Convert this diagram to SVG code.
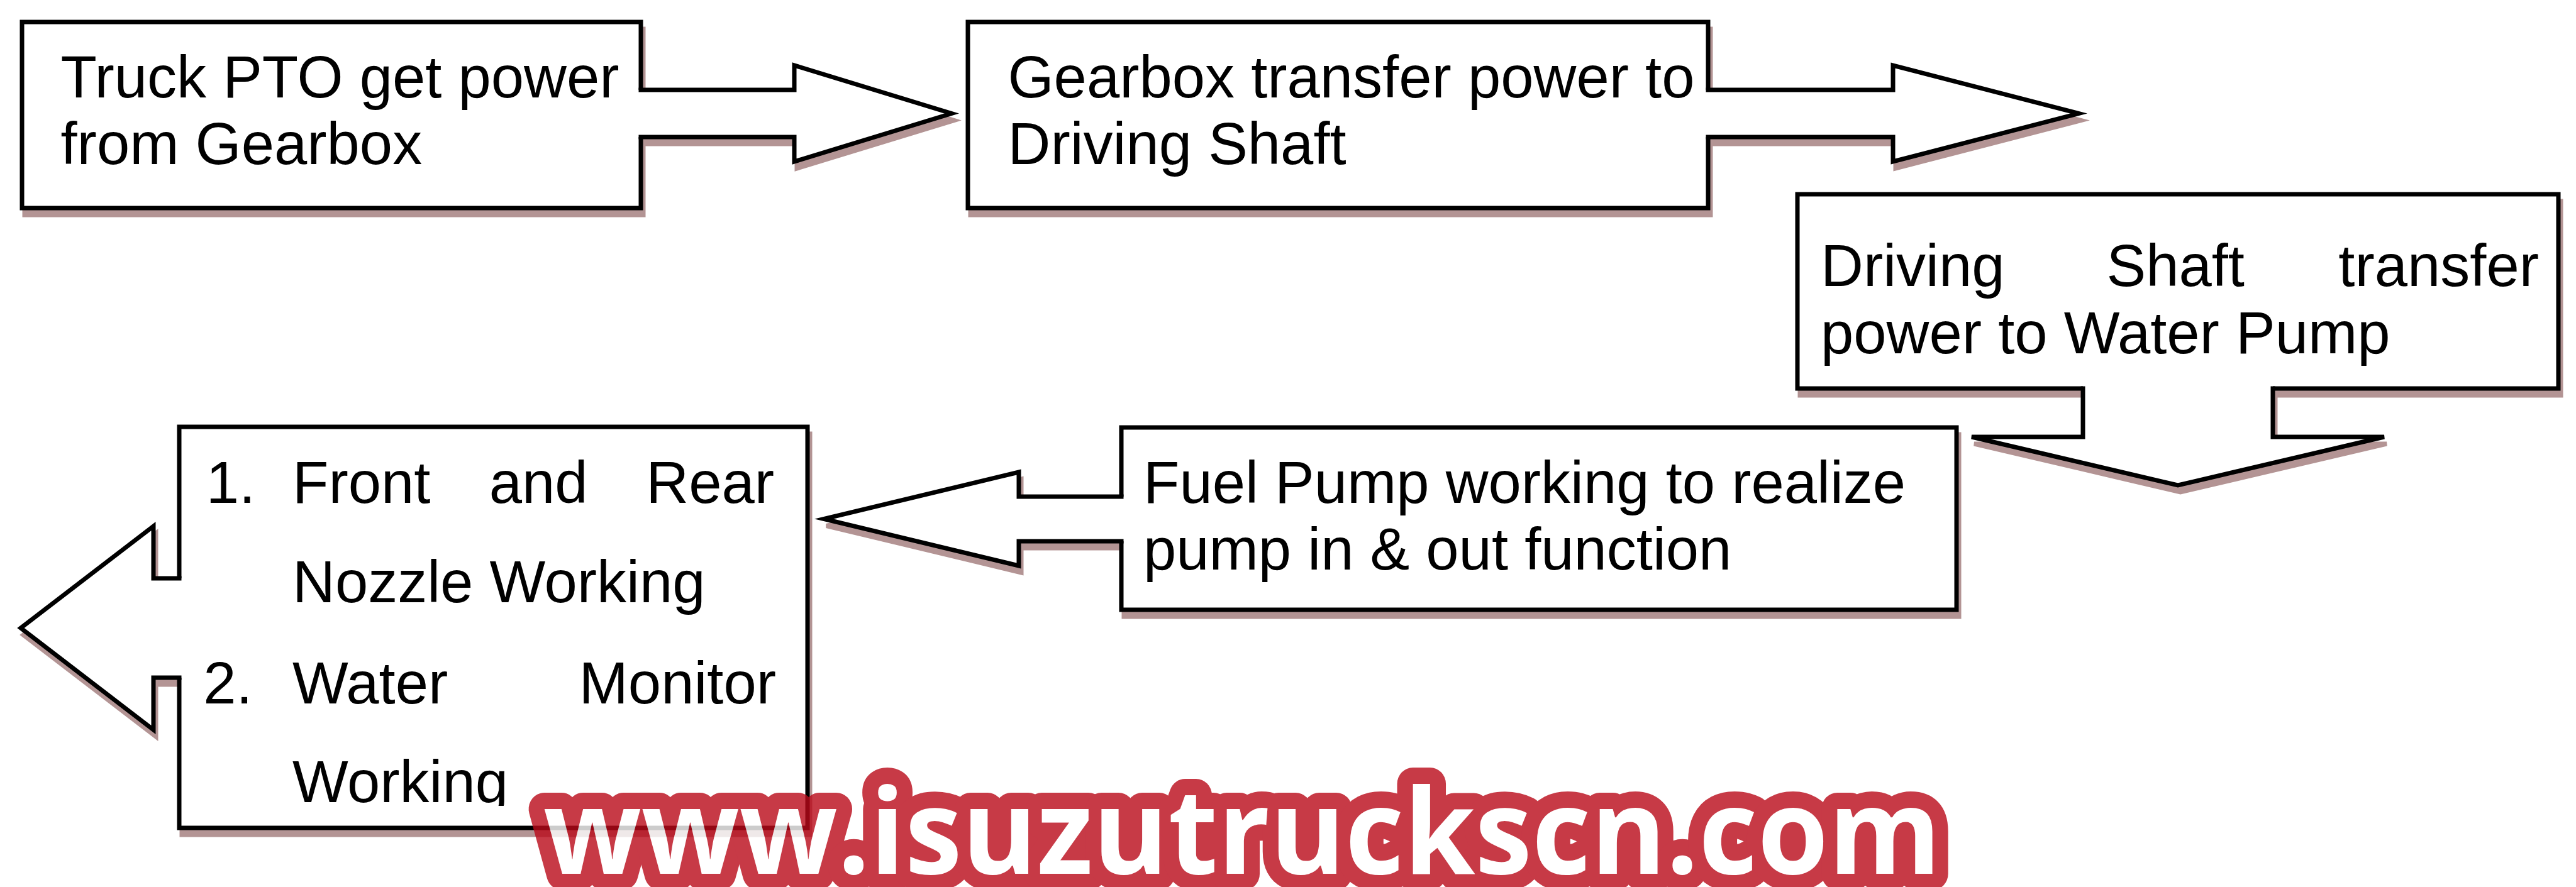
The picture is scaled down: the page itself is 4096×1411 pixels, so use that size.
<svg xmlns="http://www.w3.org/2000/svg" width="4096" height="1411" viewBox="0 0 4096 1411">
<style>
.shadow{fill:#b39494;stroke:#b39494;stroke-width:7;stroke-linejoin:miter}
.boxfill{fill:#ffffff;stroke:none}
.border{fill:none;stroke:#000;stroke-width:7;stroke-linejoin:miter;stroke-linecap:butt}
.arrow{fill:#ffffff;stroke:#000;stroke-width:7;stroke-linejoin:miter;stroke-linecap:butt;stroke-miterlimit:8}
.t{font-family:"Liberation Sans",Arial,sans-serif;font-size:94px;fill:#000}
.wm{font-family:"Open Sans","DejaVu Sans",sans-serif;font-weight:700;font-size:188px;fill:#fff;stroke:#ba0919;stroke-width:52px;stroke-linejoin:round;paint-order:stroke}
</style>
<defs>
<clipPath id="clipW"><rect x="400" y="1150" width="600" height="132"/></clipPath>
</defs>
<rect x="0" y="0" width="4096" height="1411" fill="#ffffff"/>
<g id="shadows" transform="translate(4,11)">
<path class="shadow" d="M35,35 H1019 V143 H1263 V104 L1513,180.5 L1263,257 V218 H1019 V331 H35 Z"/>
<path class="shadow" d="M1539,35 H2716 V143 H3010 V104 L3305,180.5 L3010,257 V218 H2716 V331 H1539 Z"/>
<path class="shadow" d="M2858,309 H4068 V618 H3614 V695 H3791 L3463,772 L3135,695 H3312 V618 H2858 Z"/>
<path class="shadow" d="M1783,680 H3111 V970 H1783 V861 H1620 V900 L1310,825.5 L1620,751 V790 H1783 Z"/>
<path class="shadow" d="M285,679 H1284 V1317 H285 V1078 H244 V1161 L33,999 L244,837 V920 H285 Z"/>
</g>
<g id="node-1">
<rect class="boxfill" x="35" y="35" width="984" height="296"/>
<path class="border" d="M1019,143 V35 H35 V331 H1019 V218"/>
<text class="t" x="96.5" y="155">Truck PTO get power</text>
<text class="t" x="96.5" y="261">from Gearbox</text>
</g>
<g id="node-2">
<rect class="boxfill" x="1539" y="35" width="1177" height="296"/>
<path class="border" d="M2716,143 V35 H1539 V331 H2716 V218"/>
<text class="t" x="1602.5" y="155">Gearbox transfer power to</text>
<text class="t" x="1602.5" y="261">Driving Shaft</text>
</g>
<g id="node-3">
<rect class="boxfill" x="2858" y="309" width="1210" height="309"/>
<path class="border" d="M3312,618 H2858 V309 H4068 V618 H3614"/>
<text class="t" x="2895" y="454.5">Driving</text>
<text class="t" x="3349.5" y="454.5">Shaft</text>
<text class="t" x="4037" y="454.5" text-anchor="end">transfer</text>
<text class="t" x="2895" y="562">power to Water Pump</text>
</g>
<g id="node-4">
<rect class="boxfill" x="1783" y="680" width="1328" height="290"/>
<path class="border" d="M1783,790 V680 H3111 V970 H1783 V861"/>
<text class="t" x="1818" y="799.5">Fuel Pump working to realize</text>
<text class="t" x="1818" y="906">pump in &amp; out function</text>
</g>
<g id="node-5">
<rect class="boxfill" x="285" y="679" width="999" height="638"/>
<path class="border" d="M285,920 V679 H1284 V1317 H285 V1078"/>
<text class="t" x="327.8" y="799.6">1.</text>
<text class="t" x="465" y="799.6">Front</text>
<text class="t" x="777.7" y="799.6">and</text>
<text class="t" x="1231" y="799.6" text-anchor="end">Rear</text>
<text class="t" x="465" y="958">Nozzle Working</text>
<text class="t" x="323.3" y="1119">2.</text>
<text class="t" x="465" y="1119">Water</text>
<text class="t" x="1234" y="1119" text-anchor="end">Monitor</text>
<text class="t" x="465" y="1275.5" clip-path="url(#clipW)">Working</text>
</g>
<g id="connectors">
<path class="arrow" d="M1015.5,143 H1263 V104 L1513,180.5 L1263,257 V218 H1015.5"/>
<path class="arrow" d="M2712.5,143 H3010 V104 L3305,180.5 L3010,257 V218 H2712.5"/>
<path class="arrow" d="M3312,614.5 V695 H3135 L3463,772 L3791,695 H3614 V614.5"/>
<path class="arrow" d="M1786.5,790 H1620 V751 L1310,825.5 L1620,900 V861 H1786.5"/>
<path class="arrow" d="M288.5,920 H244 V837 L33,999 L244,1161 V1078 H288.5"/>
</g>
<g id="watermark" opacity="0.8">
<text class="wm" x="864" y="1390" textLength="2222" lengthAdjust="spacingAndGlyphs">www.isuzutruckscn.com</text>
</g>
</svg>
